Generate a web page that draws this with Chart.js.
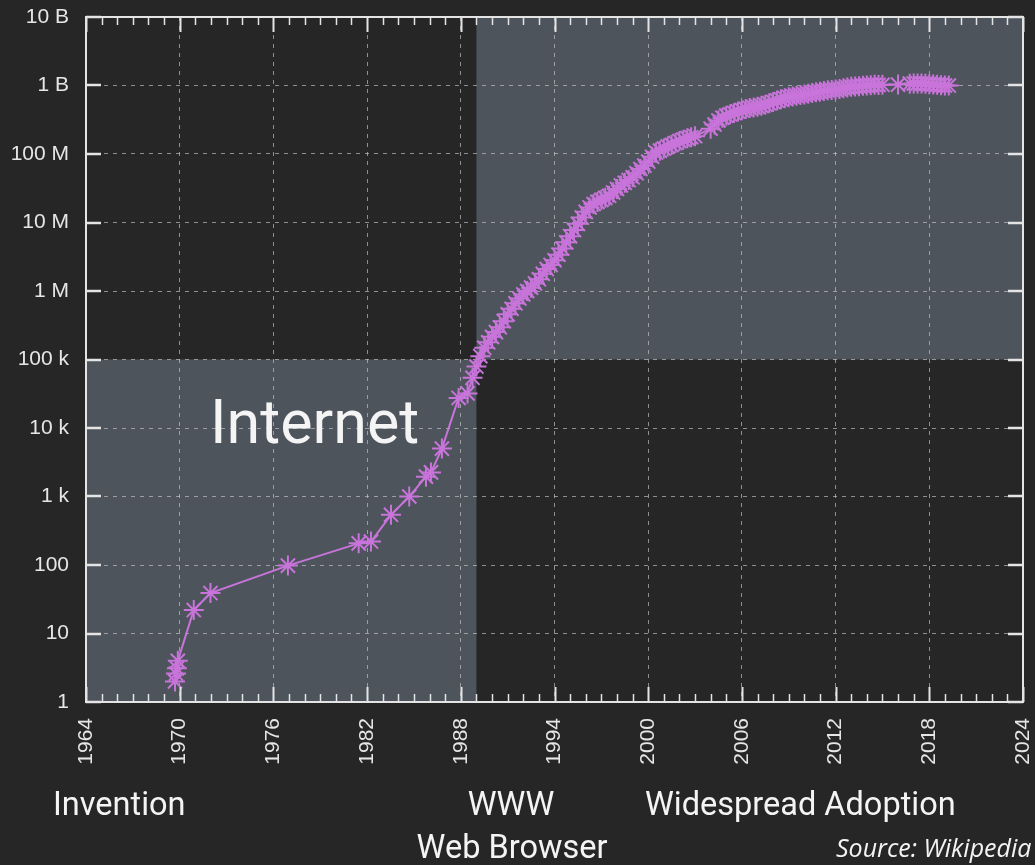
<!DOCTYPE html>
<html>
<head>
<meta charset="utf-8">
<title>Internet hosts</title>
<script src="https://cdn.jsdelivr.net/npm/chart.js@4.4.1/dist/chart.umd.min.js"></script>
<style>
    html, body { margin: 0; padding: 0; background: #262626; }
    #wrap { width: 1035px; height: 865px; }
</style>
</head>
<body>
<div id="wrap"><canvas id="hostsChart" width="1035" height="865"></canvas></div>
<script>
// Internet host count
const years = [
    1969.70, 1969.76, 1969.82, 1969.88, 1970.90, 1971.97, 1976.93, 1981.46, 1982.25,
    1983.53, 1984.70, 1985.77, 1986.09, 1986.79, 1987.86, 1988.43, 1988.75,
    1989.00, 1989.25, 1989.50, 1989.75, 1990.00, 1990.25, 1990.50, 1990.75,
    1991.00, 1991.25, 1991.50, 1991.75, 1992.00, 1992.25, 1992.50, 1992.75,
    1993.00, 1993.25, 1993.50, 1993.75, 1994.00, 1994.25, 1994.50, 1994.75,
    1995.00, 1995.25, 1995.50, 1995.75, 1996.00, 1996.25, 1996.50, 1996.75,
    1997.00, 1997.25, 1997.50, 1997.75, 1998.00, 1998.25, 1998.50, 1998.75,
    1999.00, 1999.25, 1999.50, 1999.75, 2000.00, 2000.25, 2000.50, 2000.75,
    2001.00, 2001.25, 2001.50, 2001.75, 2002.00, 2002.25, 2002.50, 2002.75,
    2003.00, 2004.00, 2004.25, 2004.50, 2004.75,
    2005.00, 2005.25, 2005.50, 2005.75, 2006.00, 2006.25, 2006.50, 2006.75,
    2007.00, 2007.25, 2007.50, 2007.75, 2008.00, 2008.25, 2008.50, 2008.75,
    2009.00, 2009.25, 2009.50, 2009.75, 2010.00, 2010.25, 2010.50, 2010.75,
    2011.00, 2011.25, 2011.50, 2011.75, 2012.00, 2012.25, 2012.50, 2012.75,
    2013.00, 2013.25, 2013.50, 2013.75, 2014.00, 2014.25, 2014.50, 2014.75,
    2015.00, 2016.00, 2016.75, 2017.00, 2017.25, 2017.50, 2017.75,
    2018.00, 2018.25, 2018.50, 2018.75, 2019.00, 2019.25
];
const hosts = [
    2, 2.6, 3.1, 4, 22, 39, 98, 207, 220,
    540, 1000, 1950, 2250, 5000, 27500, 32000, 54000,
    79000, 112000, 148000, 178000, 214000, 251000, 295000, 363000,
    457000, 550000, 661000, 776000, 891000, 1000000, 1120000, 1290000,
    1480000, 1780000, 2090000, 2400000, 2820000, 3390000, 4170000, 5130000,
    6310000, 7760000, 9550000, 11800000, 14300000, 16600000, 18600000, 20000000,
    21400000, 22900000, 24500000, 27500000, 30900000, 34700000, 38000000, 41700000,
    45700000, 52500000, 60300000, 67600000, 77600000, 91200000, 105000000, 112000000,
    120000000, 129000000, 135000000, 145000000, 155000000, 162000000, 170000000, 176000000,
    182000000, 234000000, 269000000, 309000000, 339000000,
    363000000, 380000000, 398000000, 417000000, 437000000, 452000000, 468000000, 479000000,
    490000000, 507000000, 525000000, 550000000, 575000000, 603000000, 631000000, 653000000,
    676000000, 692000000, 708000000, 724000000, 741000000, 759000000, 776000000, 794000000,
    813000000, 832000000, 851000000, 861000000, 871000000, 891000000, 912000000, 933000000,
    955000000, 966000000, 977000000, 989000000, 1000000000, 1012000000, 1023000000, 1020000000,
    1023000000, 1030000000, 1065000000, 1072000000, 1070000000, 1068000000, 1060000000,
    1047000000, 1035000000, 1023000000, 1012000000, 1000000000, 998000000
];

// axes
const xTickYears = [1964, 1970, 1976, 1982, 1988, 1994, 2000, 2006, 2012, 2018, 2024];
const yTickValues = [1, 10, 100, 1e3, 1e4, 1e5, 1e6, 1e7, 1e8, 1e9, 1e10];
const yTickLabels = ['1', '10', '100', '1 k', '10 k', '100 k', '1 M', '10 M', '100 M', '1 B', '10 B'];

// era boxes
const eraSplitYear = 1989;
const eraSplitHosts = 1e5;

const BG = '#262626';
const SHADE = '#4e545c';
const PURPLE = '#c874da';
const FRAME = '#e4e4e4';
const GRID = 'rgba(200,200,200,0.65)';
const LABEL = '#e6e6e6';

const shadePlugin = {
    id: 'eraShade',
    beforeDraw(chart) {
        const { ctx, scales: { x, y } } = chart;
        ctx.save();
        ctx.fillStyle = BG;
        ctx.fillRect(0, 0, chart.width, chart.height);
        ctx.fillStyle = SHADE;
        const x0 = x.getPixelForValue(x.min), x1 = x.getPixelForValue(eraSplitYear), x2 = x.getPixelForValue(x.max);
        const yTop = y.getPixelForValue(y.max), ySplit = y.getPixelForValue(eraSplitHosts), yBot = y.getPixelForValue(y.min);
        // invention era (bottom left)
        ctx.fillRect(x0, ySplit, x1 - x0, yBot - ySplit);
        // adoption era (top right)
        ctx.fillRect(x1, yTop, x2 - x1, ySplit - yTop);
        ctx.restore();
    }
};

const framePlugin = {
    id: 'frameTicks',
    afterDraw(chart) {
        const { ctx, chartArea: a, scales: { x, y } } = chart;
        ctx.save();
        ctx.strokeStyle = FRAME;
        // year ticks, top and bottom
        for (let yr = 1964; yr <= 2024; yr++) {
            const px = Math.round(x.getPixelForValue(yr)) + 0.5;
            const major = xTickYears.includes(yr);
            const len = major ? 15 : 8;
            ctx.lineWidth = major ? 2 : 1.5;
            ctx.beginPath();
            ctx.moveTo(px, a.top); ctx.lineTo(px, a.top + len);
            ctx.moveTo(px, a.bottom); ctx.lineTo(px, a.bottom - len);
            ctx.stroke();
        }
        // decade ticks, left and right
        ctx.lineWidth = 2.5;
        yTickValues.forEach(v => {
            const py = Math.round(y.getPixelForValue(v));
            ctx.beginPath();
            ctx.moveTo(a.left, py); ctx.lineTo(a.left + 15, py);
            ctx.moveTo(a.right, py); ctx.lineTo(a.right - 15, py);
            ctx.stroke();
        });
        ctx.lineWidth = 2;
        ctx.strokeRect(a.left, a.top, a.right - a.left, a.bottom - a.top);

        // captions
        ctx.fillStyle = '#f4f4f4';
        ctx.textBaseline = 'alphabetic';
        ctx.font = '61px Roboto';
        ctx.textAlign = 'left';
        ctx.fillText('Internet', 210, 443);

        ctx.font = '32.5px Roboto';
        ctx.fillText('Invention', 53, 815);
        ctx.fillText('Widespread Adoption', 645, 815);
        ctx.textAlign = 'center';
        ctx.fillText('WWW', 511, 815);
        ctx.fillText('Web Browser', 512, 858);

        ctx.textAlign = 'left';
        ctx.font = 'italic 25px "Open Sans"';
        ctx.fillText('Source: Wikipedia', 836, 857);
        ctx.restore();
    }
};

document.addEventListener('DOMContentLoaded', function() {
    const canvas = document.getElementById('hostsChart');
    const ctx = canvas.getContext('2d');

    new Chart(ctx, {
        type: 'line',
        data: {
            datasets: [{
                data: years.map((yr, i) => ({ x: yr, y: hosts[i] })),
                borderColor: PURPLE,
                backgroundColor: PURPLE,
                borderWidth: 2,
                pointStyle: 'star',
                pointRadius: 10,
                pointBorderWidth: 2,
                tension: 0
            }]
        },
        options: {
            responsive: false,
            animation: false,
            layout: { padding: { top: 17, right: 9, left: 0, bottom: 0 } },
            plugins: {
                legend: { display: false },
                tooltip: { enabled: false }
            },
            scales: {
                x: {
                    type: 'linear',
                    min: 1964,
                    max: 2024,
                    afterBuildTicks: s => { s.ticks = xTickYears.map(v => ({ value: v })); },
                    afterFit: s => { s.height = 163; s.paddingLeft = 0; s.paddingRight = 0; },
                    grid: { color: GRID, lineWidth: 1, drawTicks: false },
                    border: { display: false, dash: [4, 5] },
                    ticks: {
                        color: LABEL,
                        font: { family: 'Liberation Sans', size: 21 },
                        padding: 16,
                        minRotation: 90,
                        maxRotation: 90,
                        autoSkip: false,
                        callback: v => String(v)
                    }
                },
                y: {
                    type: 'logarithmic',
                    min: 1,
                    max: 1e10,
                    afterBuildTicks: s => { s.ticks = yTickValues.map(v => ({ value: v })); },
                    afterFit: s => { s.width = 86; s.paddingTop = 0; s.paddingBottom = 0; },
                    grid: { color: GRID, lineWidth: 1, drawTicks: false },
                    border: { display: false, dash: [4, 5] },
                    ticks: {
                        color: LABEL,
                        font: { family: 'Liberation Sans', size: 21 },
                        padding: 17,
                        autoSkip: false,
                        callback: v => yTickLabels[Math.round(Math.log10(v))]
                    }
                }
            }
        },
        plugins: [shadePlugin, framePlugin]
    });
});
</script>
</body>
</html>
